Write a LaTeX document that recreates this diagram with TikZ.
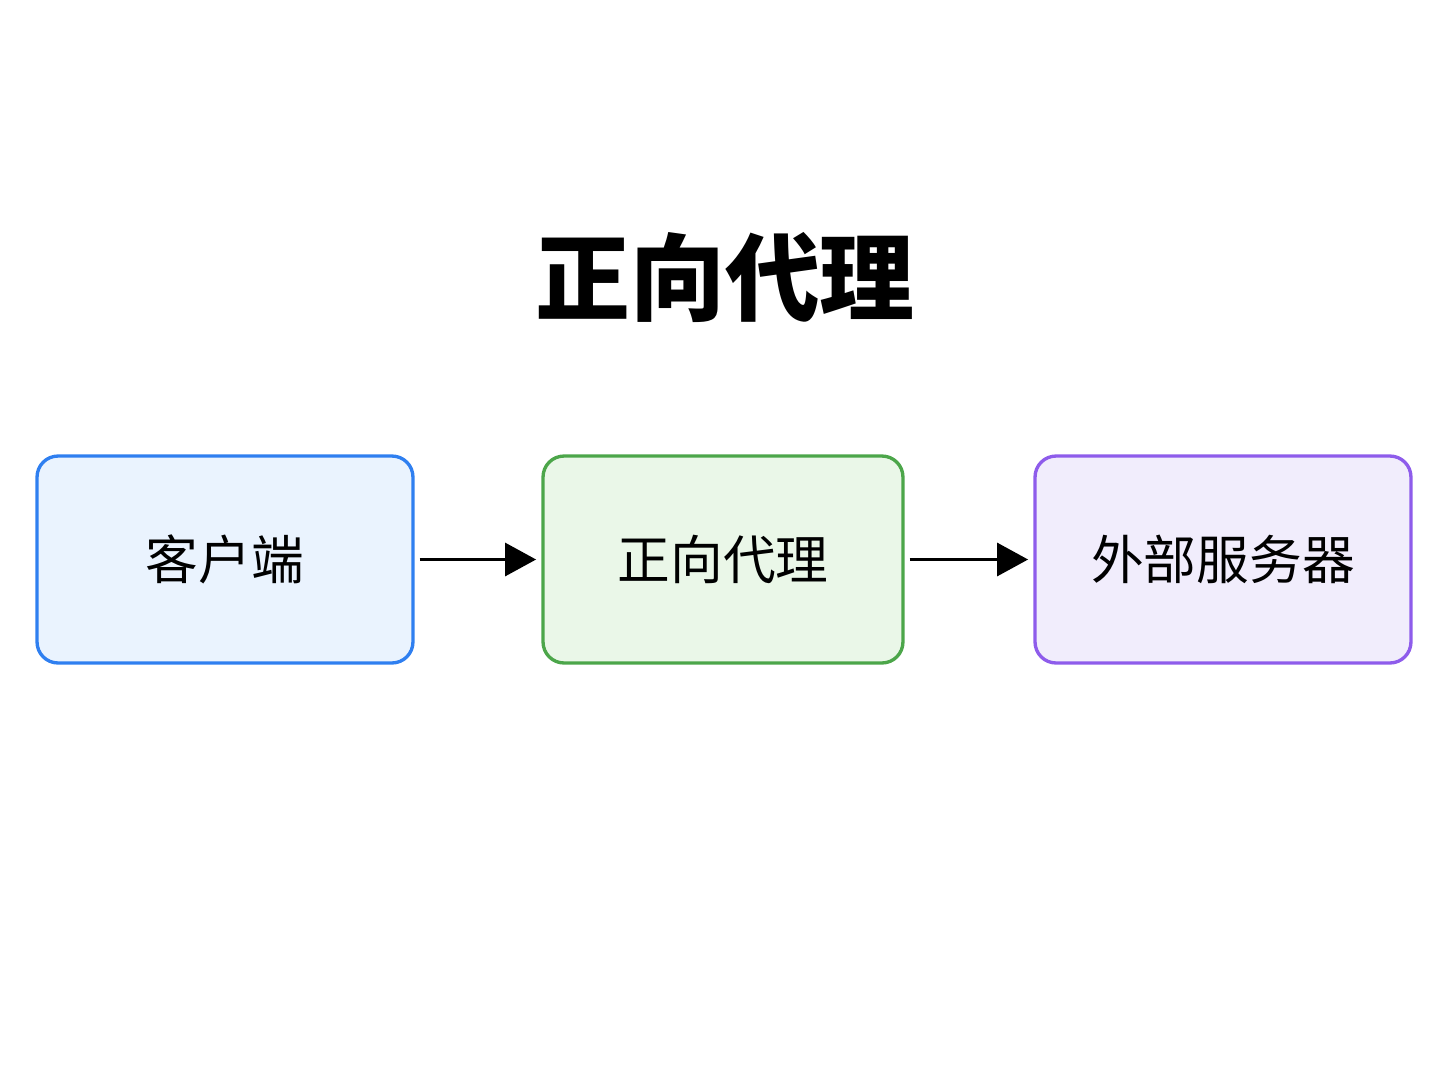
\documentclass[tikz,border=0pt]{standalone}
\usepackage{fontspec}
\newfontfamily\cjk{Noto Sans CJK SC}
\usetikzlibrary{arrows.meta}
\definecolor{bluebd}{HTML}{2F7FF0}
\definecolor{bluebg}{HTML}{EAF3FE}
\definecolor{greenbd}{HTML}{4CA64A}
\definecolor{greenbg}{HTML}{EAF7E8}
\definecolor{purplebd}{HTML}{8E5CEB}
\definecolor{purplebg}{HTML}{F1EDFC}
\tikzset{
  box/.style={draw,line width=1.9pt,rounded corners=0.42cm,minimum width=7.52cm,
    minimum height=4.14cm,font=\cjk\fontsize{30}{36}\selectfont},
  flow/.style={line width=1.8pt,-{Triangle[length=0.62cm,width=0.66cm]}}
}
\begin{document}
\begin{tikzpicture}[x=0.02cm,y=-0.02cm]
\useasboundingbox (0,0) rectangle (1448,1086);

\node (title) at (725,277) {\cjk\bfseries\fontsize{54}{64}\selectfont 正向代理};

\node[box,draw=bluebd,fill=bluebg] (client) at (225,559.5) {客户端};
\node[box,draw=greenbd,fill=greenbg,minimum width=7.2cm] (proxy) at (723,559.5) {正向代理};
\node[box,draw=purplebd,fill=purplebg] (server) at (1223,559.5) {外部服务器};

\draw[flow] (client.east) ++(5,0) -- ([xshift=-3pt]proxy.west);
\draw[flow] (proxy.east) ++(5,0) -- ([xshift=-3pt]server.west);
\end{tikzpicture}
\end{document}
